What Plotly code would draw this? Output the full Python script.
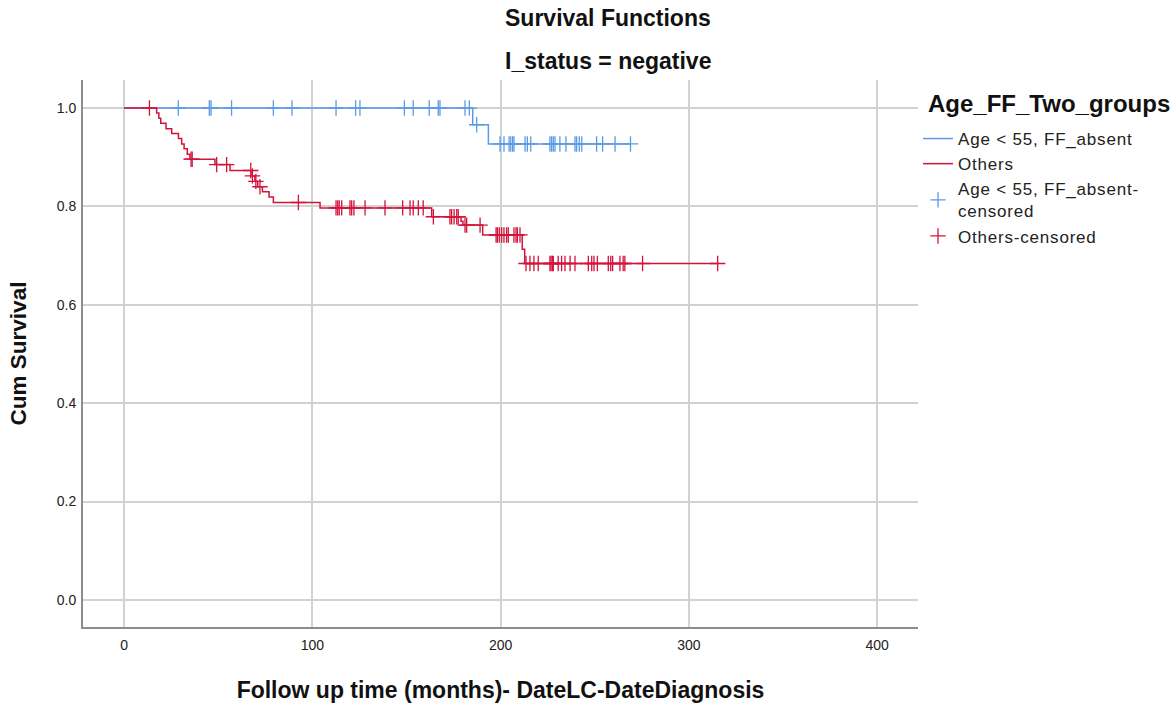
import plotly.graph_objects as go

# ---------------- data ----------------
group_names = ["Age < 55, FF_absent", "Others"]
censor_names = ["Age < 55, FF_absent-<br>censored", "Others-censored"]
legend_title = "Age_FF_Two_groups"

blue_event_times = [185.2, 193.5]
blue_event_surv = [0.966, 0.927]
blue_censor_times = [28.8, 45.3, 46.2, 57.1, 79.3, 89.2, 112.6, 123.0, 125.3, 148.9,
                     153.6, 162.1, 166.9, 167.8, 181.1, 183.4, 187.3, 199.7, 201.8,
                     204.5, 205.4, 206.4, 207.1, 213.0, 214.2, 216.0, 226.2, 227.1,
                     228.0, 228.9, 231.5, 234.7, 239.5, 240.4, 241.8, 243.1, 251.0,
                     254.2, 260.8, 269.0]

red_event_times = [17.3, 18.5, 19.5, 22.3, 25.3, 28.9, 30.6, 31.9, 33.6, 35.0,
                   48.3, 56.3, 68.0, 69.5, 71.0, 73.5, 77.0, 79.3, 104.1, 163.4,
                   179.0, 180.0, 190.5, 211.5, 212.8]
red_event_surv = [0.990, 0.979, 0.969, 0.958, 0.948, 0.938, 0.927, 0.917, 0.906, 0.896,
                  0.885, 0.873, 0.862, 0.851, 0.840, 0.830, 0.819, 0.808, 0.797, 0.779,
                  0.770, 0.762, 0.742, 0.713, 0.684]
red_censor_times = [13.5, 35.6, 36.2, 49.2, 54.5, 67.3, 68.2, 70.0, 72.2, 92.6,
                    112.6, 113.5, 114.3, 115.6, 120.0, 120.9, 122.1, 128.0, 138.6,
                    148.0, 151.9, 153.6, 156.3, 158.9, 164.3, 173.1, 174.0, 175.3,
                    176.7, 177.5, 181.1, 182.0, 189.1, 197.6, 198.3, 199.3, 200.6,
                    201.8, 203.2, 204.1, 207.1, 208.2, 208.9, 210.3, 213.5, 215.6,
                    217.7, 220.0, 226.2, 226.8, 227.5, 228.0, 230.6, 232.4, 234.2,
                    236.9, 239.5, 246.6, 248.4, 249.6, 251.4, 257.2, 258.5, 259.5,
                    263.4, 265.1, 266.0, 275.4, 315.3]

x_ticks = [0, 100, 200, 300, 400]
y_ticks = [0.0, 0.2, 0.4, 0.6, 0.8, 1.0]

colors = ["#5B9BE6", "#D2143C"]
FONT = "Liberation Sans, Arial, sans-serif"

W, H = 1176, 703
ML, MR, MT, MB = 83, 258, 80, 76


def surv_at(t, times, surv):
    s = 1.0
    for et, es in zip(times, surv):
        if et <= t:
            s = es
    return s


def step_xy(times, surv, censors):
    end = max(censors + times)
    return [0.0] + list(times) + [end], [1.0] + list(surv) + [surv[-1]]


def px_to_paper(px, py):
    return (px - ML) / (W - ML - MR), ((H - py) - MB) / (H - MT - MB)


def spaced(label):
    return "<br>".join(f"<span style='letter-spacing:0.8px'>{part}</span>"
                       for part in label.split("<br>"))


fig = go.Figure()
series = [(blue_event_times, blue_event_surv, blue_censor_times),
          (red_event_times, red_event_surv, red_censor_times)]

for i, (et, es, ct) in enumerate(series):
    xs, ys = step_xy(et, es, ct)
    fig.add_trace(go.Scatter(x=xs, y=ys, mode="lines", line_shape="hv",
                             line=dict(color=colors[i], width=1.5),
                             name=spaced(group_names[i])))

for i, (et, es, ct) in enumerate(series):
    fig.add_trace(go.Scatter(x=ct, y=[surv_at(t, et, es) for t in ct], mode="markers",
                             marker=dict(symbol="cross-thin-open", size=11, color=colors[i],
                                         line=dict(color=colors[i], width=1.3)),
                             name=spaced(censor_names[i])))

tx, ty1 = px_to_paper(608, 18)
_, ty2 = px_to_paper(608, 61)
lx, ly = px_to_paper(926, 103)
_, leg_top = px_to_paper(918, 121)

fig.update_layout(
    width=W, height=H,
    margin=dict(l=ML, r=MR, t=MT, b=MB, autoexpand=False),
    paper_bgcolor="white", plot_bgcolor="white",
    font=dict(family=FONT, color="#222222"),
    showlegend=True,
    legend=dict(x=1.0, xanchor="left", y=leg_top, yanchor="top",
                font=dict(size=17, color="#222"), tracegroupgap=0,
                bgcolor="rgba(0,0,0,0)"),
    xaxis=dict(range=[-21.8, 421.7], tickvals=x_ticks, ticktext=[str(v) for v in x_ticks],
               automargin=False, ticklabelstandoff=4,
               showgrid=True, gridcolor="#d2d2d2", gridwidth=1.5,
               showline=True, linecolor="#8c8c8c", linewidth=2, zeroline=False,
               ticks="", tickfont=dict(size=14, color="#222"),
               title=dict(text="<b>Follow up time (months)- DateLC-DateDiagnosis</b>",
                          font=dict(size=23, color="#111"), standoff=34)),
    yaxis=dict(range=[-0.055, 1.057], tickvals=y_ticks, ticktext=[f"{v:.1f}" for v in y_ticks],
               automargin=False, ticklabelstandoff=2,
               showgrid=True, gridcolor="#d2d2d2", gridwidth=1.5,
               showline=True, linecolor="#8c8c8c", linewidth=2, zeroline=False,
               ticks="", tickfont=dict(size=14, color="#222"),
               title=dict(text="<b>Cum Survival</b>", font=dict(size=22.5, color="#111"),
                          standoff=24)),
    annotations=[
        dict(text="<b>Survival Functions</b>", x=tx, y=ty1, xref="paper", yref="paper",
             xanchor="center", yanchor="middle", showarrow=False,
             font=dict(size=23, color="#111")),
        dict(text="<b>I_status = negative</b>", x=tx, y=ty2, xref="paper", yref="paper",
             xanchor="center", yanchor="middle", showarrow=False,
             font=dict(size=23, color="#111")),
        dict(text=f"<b>{legend_title}</b>", x=lx, y=ly, xref="paper", yref="paper",
             xanchor="left", yanchor="middle", showarrow=False,
             font=dict(size=24, color="#111")),
    ],
)

fig.write_html("out.html", config={"displayModeBar": False},
               post_script="document.body.style.margin='0';")
